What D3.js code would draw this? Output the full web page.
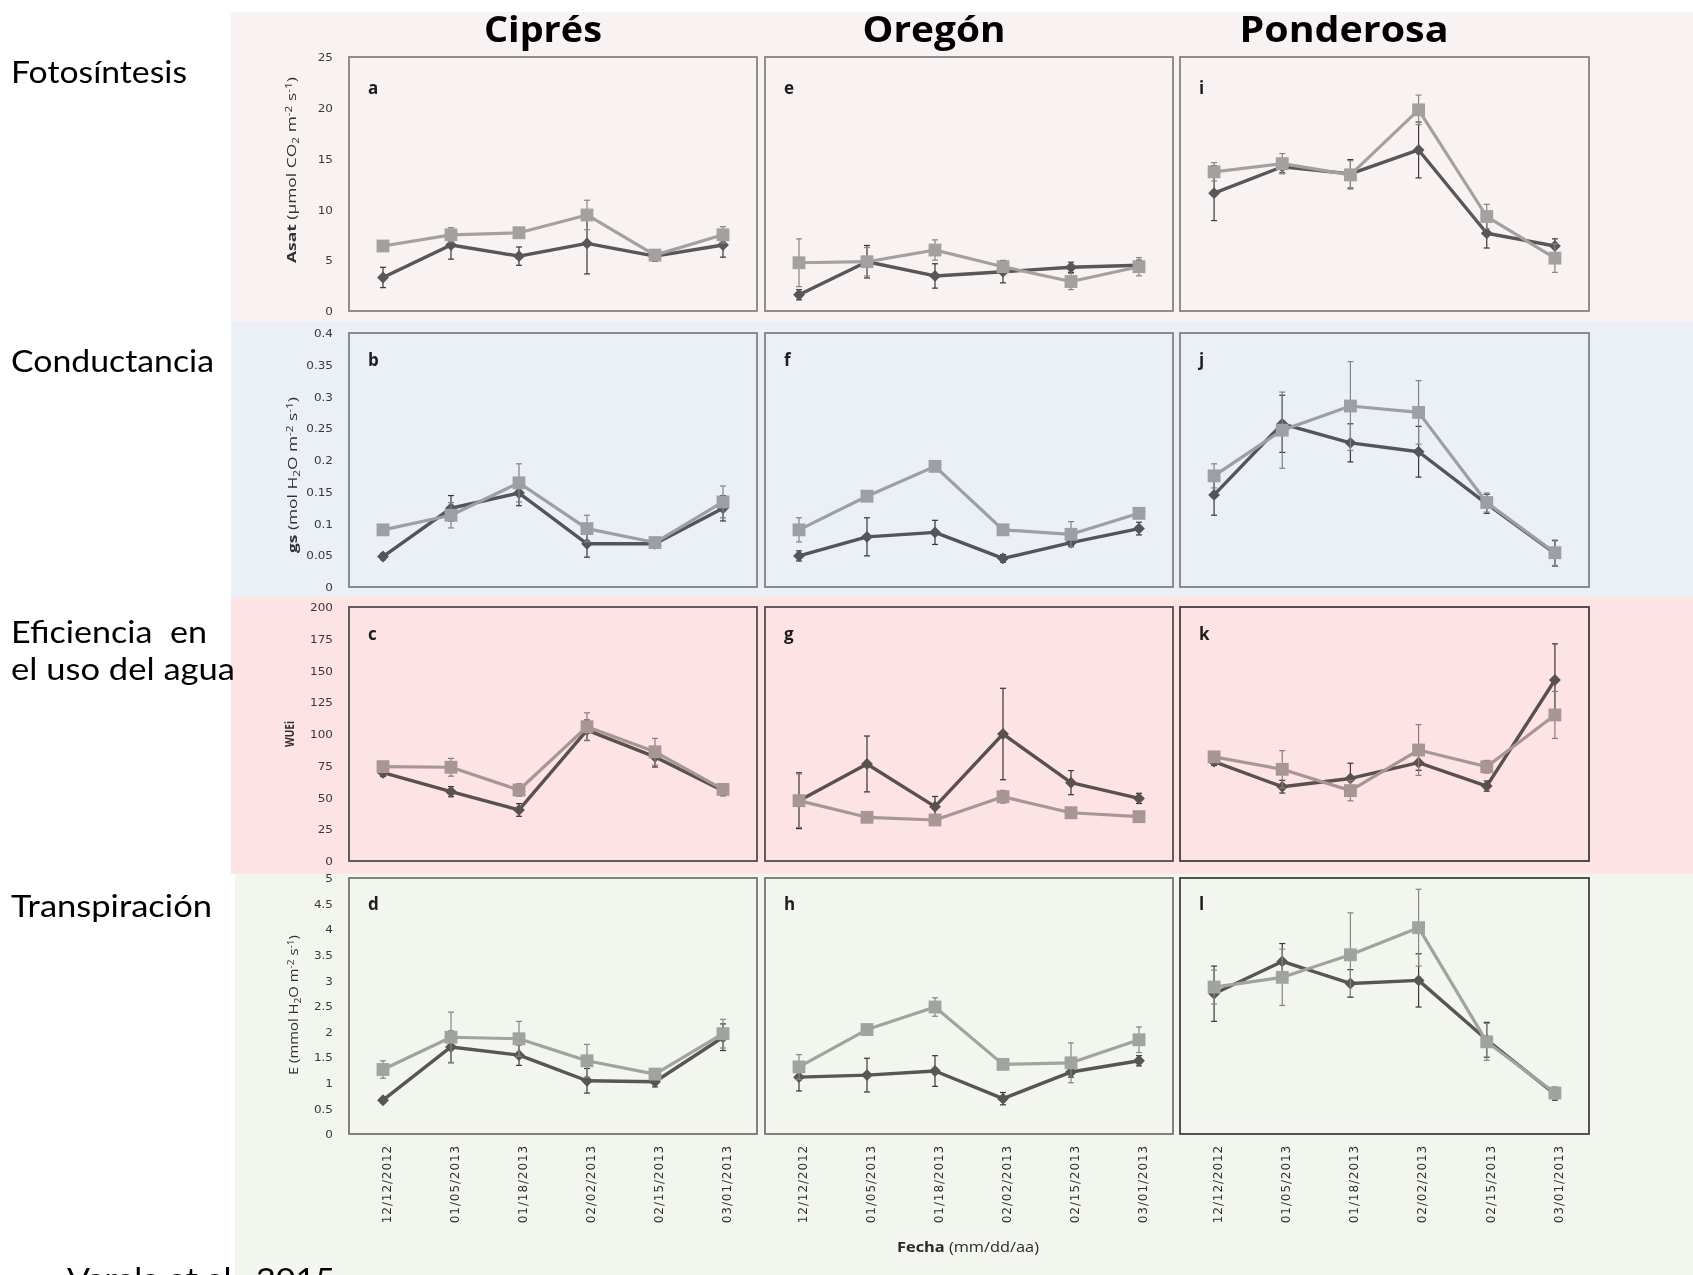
<!DOCTYPE html>
<html><head><meta charset="utf-8">
<script src="https://cdn.jsdelivr.net/npm/d3@7"></script>
<style>
html,body{margin:0;padding:0;background:#fff;}
svg{display:block;}
</style></head><body>
<svg id="chart" width="1693" height="1275"></svg>
<script>
// ---------- data ----------
const dates = ["12/12/2012","01/05/2013","01/18/2013","02/02/2013","02/15/2013","03/01/2013"];
const species = ["Ciprés","Oregón","Ponderosa"];
const panelLetters = [["a","b","c","d"],["e","f","g","h"],["i","j","k","l"]];
const rowNames = [["Fotosíntesis"],["Conductancia"],["Eficiencia  en","el uso del agua"],["Transpiración"]];
const sourceText = "Varela et al., 2015";

const asatTicks = [0,5,10,15,20,25];
const gsTicks = [0,0.05,0.1,0.15,0.2,0.25,0.3,0.35,0.4];
const wueTicks = [0,25,50,75,100,125,150,175,200];
const eTicks = [0,0.5,1,1.5,2,2.5,3,3.5,4,4.5,5];

// Asat (per species: Ciprés, Oregón, Ponderosa)
const asatDark = [[3.3,6.5,5.4,6.65,5.4,6.5],[1.6,4.85,3.45,3.87,4.3,4.5],[11.6,14.2,13.5,15.85,7.65,6.4]];
const asatDarkErr = [[1.0,1.4,0.9,3.0,0.5,1.2],[0.5,1.6,1.2,1.1,0.5,0.5],[2.7,0.6,1.4,2.75,1.45,0.7]];
const asatLight = [[6.4,7.5,7.7,9.45,5.5,7.5],[4.75,4.85,6.0,4.36,2.9,4.36],[13.7,14.5,13.4,19.8,9.3,5.2]];
const asatLightErr = [[0.3,0.7,0.3,1.45,0.5,0.8],[2.35,1.4,1.0,0.5,0.8,0.9],[0.9,1.0,1.4,1.45,1.2,1.4]];
// gs
const gsDark = [[0.048,0.124,0.148,0.068,0.068,0.124],[0.049,0.079,0.086,0.045,0.070,0.092],[0.145,0.257,0.227,0.213,0.131,0.053]];
const gsDarkErr = [[0.005,0.02,0.02,0.021,0.005,0.02],[0.008,0.03,0.019,0.006,0.006,0.01],[0.032,0.045,0.03,0.04,0.015,0.02]];
const gsLight = [[0.090,0.113,0.164,0.092,0.070,0.134],[0.090,0.143,0.190,0.090,0.083,0.116],[0.175,0.247,0.285,0.275,0.133,0.054]];
const gsLightErr = [[0.005,0.02,0.03,0.021,0.005,0.025],[0.019,0.005,0.005,0.005,0.02,0.008],[0.019,0.06,0.07,0.05,0.015,0.02]];
// WUEi
const wueDark = [[69.5,54.6,40.2,103,82,55.4],[47.5,76.4,42.8,100,61.7,49.3],[78.2,58.5,65,77.4,59,142.5]];
const wueDarkErr = [[3,4,5,8,8,4],[22,22,8,36,9.5,4],[3,5,12,6,4,28.5]];
const wueLight = [[74.3,73.8,55.9,105.7,86,56.4],[47.5,34.4,32.3,50.6,38,34.9],[82,72.2,55.4,87.4,74.2,115]];
const wueLightErr = [[3,7,5,11,10.5,4],[21,4,3,5,4,2],[3,14.7,8,20,5,18.5]];
// E
const eDark = [[0.66,1.70,1.54,1.04,1.02,1.89],[1.11,1.15,1.23,0.69,1.21,1.43],[2.74,3.37,2.94,3.0,1.84,0.78]];
const eDarkErr = [[0.05,0.31,0.2,0.24,0.1,0.26],[0.27,0.33,0.3,0.12,0.1,0.1],[0.54,0.35,0.27,0.52,0.34,0.12]];
const eLight = [[1.26,1.89,1.86,1.43,1.17,1.96],[1.31,2.04,2.48,1.36,1.39,1.84],[2.87,3.06,3.50,4.03,1.80,0.80]];
const eLightErr = [[0.17,0.49,0.34,0.32,0.1,0.28],[0.24,0.08,0.18,0.08,0.39,0.25],[0.33,0.55,0.82,0.75,0.36,0.12]];

// ---------- layout ----------
const W = 1693, H = 1275;
const colX = [[349,757],[765,1173],[1180,1589]];
const rowY = [[57,311],[333,587],[607,861],[878,1134]];
const rowBg = [
  {x0:231, y0:12,  y1:322, fill:"#f9f2f2"},
  {x0:231, y0:322, y1:597, fill:"#ebf0f6"},
  {x0:231, y0:597, y1:874, fill:"#fde3e3"},
  {x0:235, y0:874, y1:1275, fill:"#f3f6ee"}
];
const rows = [
  {dark:asatDark, darkErr:asatDarkErr, light:asatLight, lightErr:asatLightErr, ticks:asatTicks, borders:["#8a8a8a","#8a8a8a","#8a8a8a"], letterDy:37},
  {dark:gsDark, darkErr:gsDarkErr, light:gsLight, lightErr:gsLightErr, ticks:gsTicks, borders:["#8a8a8a","#8a8a8a","#8a8a8a"], letterDy:33},
  {dark:wueDark, darkErr:wueDarkErr, light:wueLight, lightErr:wueLightErr, ticks:wueTicks, borders:["#555","#555","#444"], letterDy:33},
  {dark:eDark, darkErr:eDarkErr, light:eLight, lightErr:eLightErr, ticks:eTicks, borders:["#7a7a7a","#7a7a7a","#444"], letterDy:32}
];

const svg = d3.select("#chart");
svg.append("rect").attr("width",W).attr("height",H).attr("fill","#fff");

rowBg.forEach(b => {
  svg.append("rect").attr("x",b.x0).attr("y",b.y0).attr("width",W-b.x0).attr("height",b.y1-b.y0).attr("fill",b.fill);
});

const fmt = d => String(+(+d).toFixed(2));
const darkColor = "#5a5a5a", lightColor = "#a9a9a9";

function supSub(t, parts) {
  parts.forEach(p => {
    const ts = t.append("tspan").text(p.t);
    if (p.b) ts.attr("font-weight","bold");
    if (p.small) ts.attr("font-size",8.5);
    if (p.dy) ts.attr("dy",p.dy);
  });
}

rows.forEach((row, r) => {
  const [y0, y1] = rowY[r];
  const g = svg.append("g").style("mix-blend-mode","multiply");
  const y = d3.scaleLinear().domain([row.ticks[0], row.ticks[row.ticks.length-1]]).range([y1, y0]);

  // y axis (first column only)
  const ax = g.append("g").attr("transform",`translate(333,0)`)
    .call(d3.axisLeft(y).tickValues(row.ticks).tickSize(0).tickPadding(0).tickFormat(fmt));
  ax.select(".domain").remove();
  ax.selectAll("text")
    .attr("font-family","'DejaVu Sans', sans-serif").attr("font-size",10)
    .attr("fill","#3c3c3c").attr("x",0).attr("dy","0.36em")
    .attr("transform","scale(1.2,1)");

  species.forEach((sp, c) => {
    const [x0, x1] = colX[c];
    const x = d3.scalePoint().domain(dates).range([x0, x1]).padding(0.5);
    const pg = g.append("g");
    pg.append("rect").attr("x",x0).attr("y",y0).attr("width",x1-x0).attr("height",y1-y0)
      .attr("fill","none").attr("stroke",row.borders[c]).attr("stroke-width",1.8);
    pg.append("text").attr("x",x0+19).attr("y",y0+row.letterDy)
      .attr("font-family","'Open Sans', sans-serif").attr("font-weight","bold").attr("font-size",17)
      .attr("fill","#1e1e1e").text(panelLetters[c][r]);

    const series = [
      {vals:row.dark[c], errs:row.darkErr[c], color:darkColor, errColor:"#3a3a3a", kind:"diamond", width:3.4},
      {vals:row.light[c], errs:row.lightErr[c], color:lightColor, errColor:"#8c8c8c", kind:"square", width:3.2}
    ];
    series.forEach(s => {
      const pts = dates.map((d,i) => ({d, v:s.vals[i], e:s.errs[i]}));
      const sg = pg.append("g");
      sg.append("path").datum(pts)
        .attr("d", d3.line().x(p => x(p.d)).y(p => y(p.v)))
        .attr("fill","none").attr("stroke",s.color).attr("stroke-width",s.width).attr("stroke-linejoin","round");
      const eb = sg.selectAll(".eb").data(pts).join("g").attr("stroke",s.errColor).attr("stroke-width",1.2);
      eb.append("line").attr("x1",p=>x(p.d)).attr("x2",p=>x(p.d)).attr("y1",p=>y(p.v-p.e)).attr("y2",p=>y(p.v+p.e));
      eb.append("line").attr("x1",p=>x(p.d)-3).attr("x2",p=>x(p.d)+3).attr("y1",p=>y(p.v-p.e)).attr("y2",p=>y(p.v-p.e));
      eb.append("line").attr("x1",p=>x(p.d)-3).attr("x2",p=>x(p.d)+3).attr("y1",p=>y(p.v+p.e)).attr("y2",p=>y(p.v+p.e));
      const sym = s.kind === "square" ? d3.symbol().type(d3.symbolSquare).size(165)
                                      : d3.symbol().type(d3.symbolSquare).size(70);
      sg.selectAll(".mk").data(pts).join("path")
        .attr("d", sym())
        .attr("transform", p => `translate(${x(p.d)},${y(p.v)})` + (s.kind === "diamond" ? " rotate(45)" : ""))
        .attr("fill", s.color);
    });

    // x axis under bottom row
    if (r === rows.length - 1) {
      const xa = g.append("g").attr("transform",`translate(0,${y1})`)
        .call(d3.axisBottom(x).tickSize(0));
      xa.select(".domain").remove();
      xa.selectAll("text")
        .attr("font-family","'DejaVu Sans', sans-serif").attr("font-size",12)
        .attr("letter-spacing","0.9px").attr("fill","#333")
        .attr("transform","rotate(-90)")
        .attr("x",-11).attr("y",3).attr("dy","0.36em")
        .style("text-anchor","end");
    }
  });

  // y-axis titles
  const tt = g.append("text").attr("font-family","'Open Sans', sans-serif").attr("font-size",12.5).attr("fill","#333")
    .attr("text-anchor","middle").attr("lengthAdjust","spacingAndGlyphs");
  if (r === 0) {
    tt.attr("transform","translate(296,170) rotate(-90)").attr("textLength",186);
    supSub(tt, [{t:"Asat",b:true},{t:" (µmol CO"},{t:"2",small:true,dy:3},{t:" m",dy:-3},{t:"-2",small:true,dy:-4},{t:" s",dy:4},{t:"-1",small:true,dy:-4},{t:")",dy:4}]);
  } else if (r === 1) {
    tt.attr("transform","translate(297,475) rotate(-90)").attr("textLength",156);
    supSub(tt, [{t:"gs",b:true},{t:" (mol H"},{t:"2",small:true,dy:3},{t:"O m",dy:-3},{t:"-2",small:true,dy:-4},{t:" s",dy:4},{t:"-1",small:true,dy:-4},{t:")",dy:4}]);
  } else if (r === 2) {
    tt.attr("transform","translate(294,734) rotate(-90)").attr("textLength",26);
    supSub(tt, [{t:"WUEi",b:true}]);
  } else {
    tt.attr("transform","translate(298,1005) rotate(-90)").attr("textLength",140);
    supSub(tt, [{t:"E (mmol H"},{t:"2",small:true,dy:3},{t:"O m",dy:-3},{t:"-2",small:true,dy:-4},{t:" s",dy:4},{t:"-1",small:true,dy:-4},{t:")",dy:4}]);
  }
});

// Fecha label
const fl = svg.append("text").attr("x",968).attr("y",1252).attr("text-anchor","middle")
  .attr("font-family","'Open Sans', sans-serif").attr("font-size",14).attr("fill","#2a2a2a")
  .attr("textLength",142).attr("lengthAdjust","spacingAndGlyphs");
fl.append("tspan").attr("font-weight","bold").text("Fecha");
fl.append("tspan").text(" (mm/dd/aa)");

// column titles
const titleX = [543, 934, 1344];
const titleW = [118, 143, 209];
species.forEach((sp, c) => {
  svg.append("text").attr("x",titleX[c]).attr("y",42).attr("text-anchor","middle")
    .attr("font-family","'Open Sans', sans-serif").attr("font-weight","bold").attr("font-size",35)
    .attr("fill","#000").attr("textLength",titleW[c]).attr("lengthAdjust","spacingAndGlyphs").text(sp);
});

// row labels
const rowLabelBase = [[83],[372],[643,680],[917]];
const rowLabelW = [[176],[203],[196,224],[201]];
rowNames.forEach((lines, r) => {
  lines.forEach((t, k) => {
    svg.append("text").attr("x",11).attr("y",rowLabelBase[r][k])
      .attr("font-family","Lato, sans-serif").attr("font-size",30).attr("fill","#000")
      .attr("textLength",rowLabelW[r][k]).attr("lengthAdjust","spacingAndGlyphs")
      .attr("xml:space","preserve").style("white-space","pre").text(t);
  });
});

// source
svg.append("text").attr("x",67).attr("y",1290)
  .attr("font-family","Lato, sans-serif").attr("font-size",30).attr("fill","#000")
  .attr("textLength",268).attr("lengthAdjust","spacingAndGlyphs").text(sourceText);
</script>
</body></html>
